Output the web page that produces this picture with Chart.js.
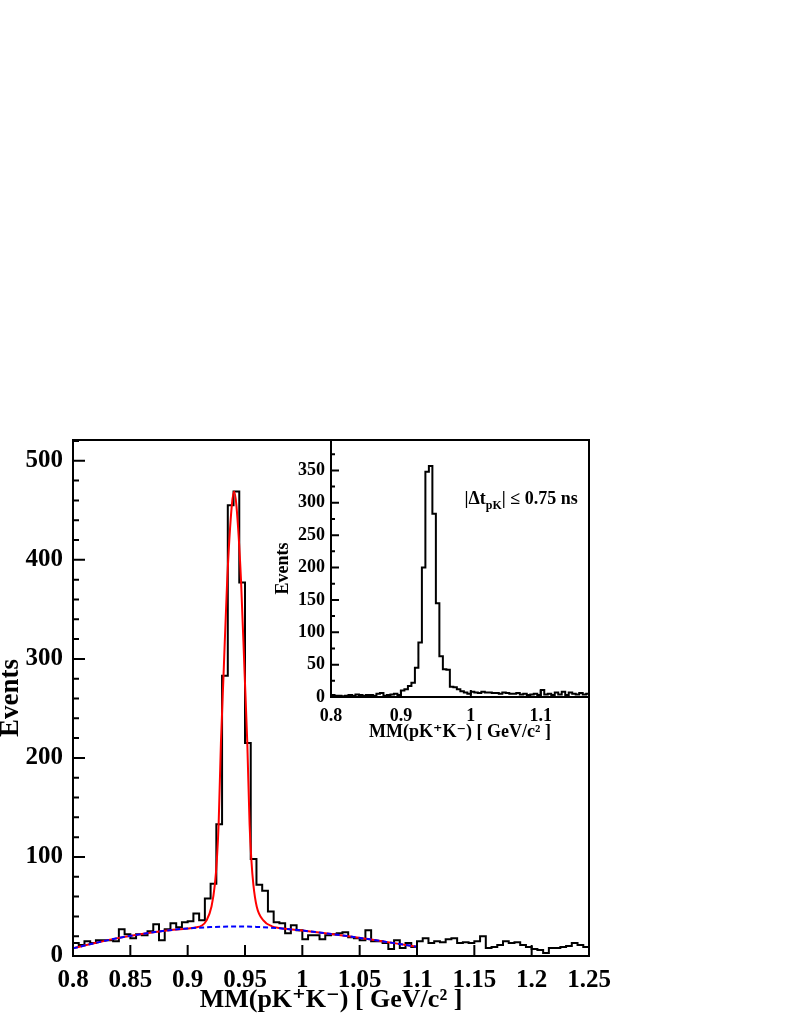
<!DOCTYPE html>
<html><head><meta charset="utf-8">
<script src="https://cdn.jsdelivr.net/npm/chart.js@4.4.1/dist/chart.umd.min.js"></script>
<style>
html,body{margin:0;padding:0;background:#fff;}
#wrap{position:relative;width:796px;height:1030px;background:#fff;}
#wrap canvas{position:absolute;left:0;top:0;}
</style></head><body>
<div id="wrap"><canvas id="main" width="796" height="1030"></canvas><canvas id="inset" width="796" height="1030"></canvas></div>
<script>
// ---------- data ----------
const mainBinLow = [
 0.800,0.805,0.810,0.815,0.820,0.825,0.830,0.835,0.840,0.845,
 0.850,0.855,0.860,0.865,0.870,0.875,0.880,0.885,0.890,0.895,
 0.900,0.905,0.910,0.915,0.920,0.925,0.930,0.935,0.940,0.945,
 0.950,0.955,0.960,0.965,0.970,0.975,0.980,0.985,0.990,0.995,
 1.000,1.005,1.010,1.015,1.020,1.025,1.030,1.035,1.040,1.045,
 1.050,1.055,1.060,1.065,1.070,1.075,1.080,1.085,1.090,1.095,
 1.100,1.105,1.110,1.115,1.120,1.125,1.130,1.135,1.140,1.145,
 1.150,1.155,1.160,1.165,1.170,1.175,1.180,1.185,1.190,1.195,
 1.200,1.205,1.210,1.215,1.220,1.225,1.230,1.235,1.240,1.245];
const mainLastEdge = 1.250;
const mainCounts = [
 13,11,15,13,16,16,16,15,27,22,
 18,22,21,25,32,16,27,33,29,34,
 35,43,36,58,73,133,283,455,469,377,
 215,98,72,66,45,34,33,23,31,26,
 17,21,21,17,21,22,23,24,19,18,
 16,26,15,15,13,7,16,8,13,9,
 15,18,13,15,14,17,18,13,14,13,
 15,20,8,9,11,15,13,14,11,9,
 7,6,3,8,8,9,10,13,11,9];

// total fit (red)
const fitX = [0.800,0.820,0.840,0.860,0.880,0.900,0.908,0.912,0.9165,0.9208,0.9237,0.9255,0.927,0.929,0.9313,0.9345,0.9385,0.9405,0.9425,0.9465,0.9497,0.952,0.954,0.9555,0.9573,0.9602,0.966,0.9735,0.980,1.000,1.020,1.040,1.060,1.080,1.100];
const fitY = [7.7,13.3,18.3,22.3,25.5,27.8,29.0,30.5,36,50,72,98,133,215,284,380,455,469,455,380,284,215,133,98,72,50,36,30,28.3,25.7,23,20,16.6,13,9.4];
// background (blue dashed)
const bkgX = [0.800,0.820,0.840,0.860,0.880,0.900,0.920,0.940,0.960,0.980,1.000,1.020,1.040,1.060,1.080,1.100];
const bkgY = [7.7,13.3,18.3,22.3,25.5,27.8,29.2,29.8,29.4,28,25.7,23,20,16.6,13,9.4];

// inset histogram
const insetBinLow = mainBinLow.slice(0, 74);
const insetLastEdge = 1.170;
const insetCounts = [
 3,2,2,1,2,3,2,4,3,2,
 3,3,2,5,6,2,3,4,5,3,
 10,12,17,22,45,84,200,348,357,283,
 145,63,43,42,16,15,12,9,7,5,
 8,7,6,8,7,7,6,6,5,7,
 6,5,5,6,4,5,3,4,5,3,
 11,4,5,3,7,4,8,3,7,5,
 4,6,4,5];

const xTitle = 'MM(pK\u207AK\u207B) [ GeV/c\u00B2 ]';
const yTitle = 'Events';
const cutLabel = {pre: '|\u0394t', sub: 'pK', post: '| \u2264 0.75 ns'};

// ---------- helpers ----------
const FONT = "'Liberation Serif','Times New Roman','DejaVu Serif',serif";
const fmt = v => String(+Number(v).toFixed(3));
function histPoints(edges, counts, lastEdge){
  const pts = edges.map((x,i)=>({x, y: counts[i]}));
  pts.push({x: lastEdge, y: counts[counts.length-1]});
  return pts;
}
const xy = (xs, ys) => xs.map((x,i)=>({x, y: ys[i]}));

const axesDeco = {
  id: 'axesDeco',
  beforeDraw(chart, args, o){
    if (!o.fillArea) return;
    const a = chart.chartArea, ctx = chart.ctx;
    ctx.save(); ctx.fillStyle = '#fff';
    ctx.fillRect(a.left, a.top, a.right-a.left, a.bottom-a.top);
    ctx.restore();
  },
  afterDatasetsDraw(chart, args, o){
    const {ctx, chartArea:a, scales:{x, y}} = chart;
    ctx.save();
    ctx.strokeStyle = '#000'; ctx.lineWidth = o.lineWidth; ctx.lineCap = 'butt';
    ctx.beginPath();
    x.ticks.forEach(t => { const p = x.getPixelForValue(t.value); ctx.moveTo(p, a.bottom); ctx.lineTo(p, a.bottom - o.xMajor); });
    y.ticks.forEach(t => { const p = y.getPixelForValue(t.value); ctx.moveTo(a.left, p); ctx.lineTo(a.left + o.yMajor, p); });
    for (let k = 1; k * o.yMinorStep < y.max; k++) {
      const v = k * o.yMinorStep;
      if (Math.abs(v / o.yMajorStep - Math.round(v / o.yMajorStep)) < 1e-6) continue;
      const p = y.getPixelForValue(v); ctx.moveTo(a.left, p); ctx.lineTo(a.left + o.yMinor, p);
    }
    ctx.stroke();
    ctx.strokeRect(a.left, a.top, a.right-a.left, a.bottom-a.top);
    if (o.label) {
      const L = o.label;
      let px = x.getPixelForValue(L.x), py = y.getPixelForValue(L.y);
      ctx.fillStyle = '#000'; ctx.textBaseline = 'alphabetic'; ctx.textAlign = 'left';
      ctx.font = `bold ${L.size}px ${FONT}`;
      ctx.fillText(L.pre, px, py); px += ctx.measureText(L.pre).width;
      ctx.font = `bold ${L.subSize}px ${FONT}`;
      ctx.fillText(L.sub, px, py + L.subShift); px += ctx.measureText(L.sub).width;
      ctx.font = `bold ${L.size}px ${FONT}`;
      ctx.fillText(L.post, px, py);
    }
    ctx.restore();
  }
};

function scaleX(min, max, step, tickSize, pad, titleSize, titlePadBottom, height){
  return {type:'linear', min, max, afterFit(s){ s.height = height; },
    grid:{display:false, drawTicks:false, tickLength:0}, border:{display:false},
    ticks:{stepSize:step, includeBounds:false, autoSkip:false, maxRotation:0, minRotation:0,
      padding:pad, color:'#000', font:{family:FONT, size:tickSize, weight:'bold'}, callback: fmt},
    title:{display:true, text:xTitle, color:'#000', font:{family:FONT, size:titleSize, weight:'bold', lineHeight:1},
      padding:{top:0, bottom:titlePadBottom}}};
}
function scaleY(max, step, tickSize, pad, titleSize, titleLH, width){
  return {type:'linear', min:0, max, afterFit(s){ s.width = width; },
    grid:{display:false, drawTicks:false, tickLength:0}, border:{display:false},
    ticks:{stepSize:step, includeBounds:false, autoSkip:false, padding:pad, color:'#000',
      font:{family:FONT, size:tickSize, weight:'bold'}, callback: fmt},
    title:{display:true, text:yTitle, color:'#000', font:{family:FONT, size:titleSize, weight:'bold', lineHeight:titleLH},
      padding:{top:0, bottom:0}}};
}

// ---------- main chart ----------
new Chart(document.getElementById('main'), {
  type: 'line',
  data: { datasets: [
    {label:'Background', data: xy(bkgX, bkgY), borderColor:'#0000ff', borderWidth:2, borderDash:[5,3],
      pointRadius:0, fill:false, cubicInterpolationMode:'monotone'},
    {label:'Fit', data: xy(fitX, fitY), borderColor:'#ff0000', borderWidth:2,
      pointRadius:0, fill:false, cubicInterpolationMode:'monotone'},
    {label:'Data', data: histPoints(mainBinLow, mainCounts, mainLastEdge), borderColor:'#000', borderWidth:2,
      pointRadius:0, fill:false, stepped:'before'}
  ]},
  options: {
    responsive:false, animation:false, devicePixelRatio:1,
    layout:{padding:{left:0, top:440, right:207, bottom:0}},
    plugins:{legend:{display:false}, tooltip:{enabled:false},
      axesDeco:{lineWidth:2, xMajor:11, yMajor:12, yMinor:6, yMinorStep:20, yMajorStep:100}},
    scales:{
      x: scaleX(0.8, 1.25, 0.05, 25, 10, 26, 17, 74),
      y: scaleY(521, 100, 25, 10, 27, 0.8, 73)
    }
  },
  plugins:[axesDeco]
});

// ---------- inset chart ----------
new Chart(document.getElementById('inset'), {
  type: 'line',
  data: { datasets: [
    {label:'Data (cut)', data: histPoints(insetBinLow, insetCounts, insetLastEdge), borderColor:'#000', borderWidth:2,
      pointRadius:0, fill:false, stepped:'before'}
  ]},
  options: {
    responsive:false, animation:false, devicePixelRatio:1,
    layout:{padding:{left:274, top:440, right:207, bottom:288}},
    plugins:{legend:{display:false}, tooltip:{enabled:false},
      axesDeco:{fillArea:true, lineWidth:2, xMajor:7, yMajor:8, yMinor:4, yMinorStep:25, yMajorStep:50,
        label:{x:0.991, y:298, size:18, subSize:12, subShift:5, pre:cutLabel.pre, sub:cutLabel.sub, post:cutLabel.post}}},
    scales:{
      x: scaleX(0.8, 1.169, 0.1, 18, 9, 18, 1, 45),
      y: scaleY(397, 50, 18, 6, 18, 1, 57)
    }
  },
  plugins:[axesDeco]
});
</script>
</body></html>
